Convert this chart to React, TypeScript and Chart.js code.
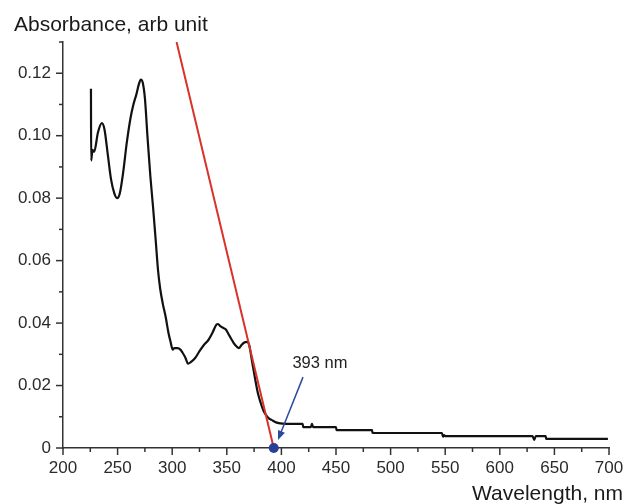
import React, { useEffect, useRef } from 'react';
import { Chart, registerables } from 'chart.js';

Chart.register(...registerables);

// Absorption spectrum (black)
const wavelengths = [
  225.6, 225.8, 227, 228.5, 232, 235.5, 238, 241, 244, 247, 249.5, 252, 255, 258.5, 262, 264.5,
  267, 269.5, 271.3, 273, 275, 277.5, 280, 282.5, 285, 287, 289, 291.5, 294, 296.5, 298.5, 300.5,
  302, 305, 307.5, 309.5, 312, 314.5, 317, 321, 325, 329, 333, 337, 340.5, 342, 344, 346.5,
  349, 351.5, 354, 356.5, 359, 361, 363.5, 366, 368.5, 370.5, 373, 376, 378.5, 381, 383.5, 386,
  388.5, 391, 395, 401, 410, 419.5, 420, 427, 428, 429, 450, 450.5, 483, 483.5, 547, 548,
  549, 550, 630, 631.5, 633, 642, 642.5, 699,
];
const absorbance = [
  0.115, 0.092, 0.0955, 0.0948, 0.101, 0.104, 0.102, 0.094, 0.086, 0.0815, 0.08, 0.0815, 0.088, 0.098, 0.106, 0.11,
  0.113, 0.1165, 0.118, 0.117, 0.112, 0.099, 0.087, 0.077, 0.066, 0.057, 0.051, 0.046, 0.042, 0.037, 0.034, 0.0315,
  0.032, 0.032, 0.0315, 0.0305, 0.029, 0.027, 0.0275, 0.0288, 0.031, 0.033, 0.0345, 0.037, 0.0395, 0.0397, 0.039, 0.0385,
  0.038, 0.0365, 0.035, 0.0335, 0.0325, 0.032, 0.033, 0.0338, 0.034, 0.033, 0.028, 0.022, 0.0175, 0.0145, 0.012, 0.0105,
  0.0095, 0.009, 0.0082, 0.0078, 0.0077, 0.0077, 0.0067, 0.0067, 0.0077, 0.0067, 0.0067, 0.0057, 0.0057, 0.0048, 0.0048, 0.0036,
  0.0041, 0.0038, 0.0038, 0.0026, 0.0038, 0.0038, 0.0029, 0.0029,
];

// Tangent (red) extrapolation line
const edgeWavelengths = [304, 393];
const edgeAbsorbance = [0.13, 0];

// Band edge marker
const edgePointWavelength = 393;
const edgePointAbsorbance = 0;
const edgeLabel = '393 nm';
const arrowFrom = [419.8, 0.0227];
const arrowTo = [396.9, 0.0026];
const labelAt = [435.3, 0.0271];

const xMin = 200;
const xMax = 700;
const yMin = 0;
const yMax = 0.13;
const xTitle = 'Wavelength, nm';
const yTitle = 'Absorbance, arb unit';

const FONT = "'Liberation Sans', Arial, sans-serif";
const AXIS_COLOR = '#333333';

const decorPlugin = {
  id: 'decor',
  afterDraw(chart: any) {
    const ctx = chart.ctx as CanvasRenderingContext2D;
    const xs = chart.scales.x;
    const ys = chart.scales.y;
    const area = chart.chartArea;
    ctx.save();
    ctx.strokeStyle = AXIS_COLOR;
    ctx.lineWidth = 1.5;
    // y ticks
    ys.ticks.forEach((t: any) => {
      const v = t.value;
      const py = ys.getPixelForValue(v);
      const major = Math.round(v * 100) % 2 === 0;
      const len = major ? 7 : 4;
      ctx.beginPath();
      ctx.moveTo(area.left - len, py);
      ctx.lineTo(area.left, py);
      ctx.stroke();
    });
    // x ticks
    xs.ticks.forEach((t: any) => {
      const v = t.value;
      const px = xs.getPixelForValue(v);
      const major = Math.round(v) % 50 === 0;
      const len = major ? 7 : 4;
      ctx.beginPath();
      ctx.moveTo(px, area.bottom);
      ctx.lineTo(px, area.bottom + len);
      ctx.stroke();
    });
    // titles
    ctx.fillStyle = '#1a1a1a';
    ctx.font = `21px ${FONT}`;
    ctx.textBaseline = 'alphabetic';
    ctx.textAlign = 'left';
    ctx.fillText(yTitle, 14, 31);
    ctx.textAlign = 'right';
    ctx.fillText(xTitle, 623, 500);

    // arrow
    const x1 = xs.getPixelForValue(arrowFrom[0]);
    const y1 = ys.getPixelForValue(arrowFrom[1]);
    const x2 = xs.getPixelForValue(arrowTo[0]);
    const y2 = ys.getPixelForValue(arrowTo[1]);
    const ang = Math.atan2(y2 - y1, x2 - x1);
    const head = 10;
    ctx.strokeStyle = '#2a4a9e';
    ctx.fillStyle = '#2a4a9e';
    ctx.lineWidth = 1.5;
    ctx.beginPath();
    ctx.moveTo(x1, y1);
    ctx.lineTo(x2 - Math.cos(ang) * head * 0.6, y2 - Math.sin(ang) * head * 0.6);
    ctx.stroke();
    ctx.beginPath();
    ctx.moveTo(x2, y2);
    ctx.lineTo(x2 - head * Math.cos(ang - 0.38), y2 - head * Math.sin(ang - 0.38));
    ctx.lineTo(x2 - head * Math.cos(ang + 0.38), y2 - head * Math.sin(ang + 0.38));
    ctx.closePath();
    ctx.fill();

    // label
    ctx.fillStyle = '#222';
    ctx.font = `16.5px ${FONT}`;
    ctx.textAlign = 'center';
    ctx.textBaseline = 'middle';
    ctx.fillText(edgeLabel, xs.getPixelForValue(labelAt[0]), ys.getPixelForValue(labelAt[1]));
    ctx.restore();
  },
};

export default function App() {
  const ref = useRef<HTMLCanvasElement | null>(null);
  useEffect(() => {
    if (!ref.current) return;
    const chart = new Chart(ref.current, {
      type: 'line',
      data: {
        datasets: [
          {
            label: 'edge',
            data: [{ x: edgePointWavelength, y: edgePointAbsorbance }],
            showLine: false,
            pointRadius: 5,
            pointBackgroundColor: '#2a3f96',
            pointBorderColor: '#2a3f96',
            pointBorderWidth: 0,
            clip: false as any,
            order: 0,
          },
          {
            label: 'tangent',
            data: edgeWavelengths.map((x, i) => ({ x, y: edgeAbsorbance[i] })),
            borderColor: '#d8322a',
            borderWidth: 2,
            pointRadius: 0,
            order: 1,
          },
          {
            label: 'spectrum',
            data: wavelengths.map((x, i) => ({ x, y: absorbance[i] })),
            borderColor: '#111111',
            borderWidth: 2.2,
            pointRadius: 0,
            cubicInterpolationMode: 'monotone',
            order: 2,
          },
        ],
      },
      options: {
        responsive: false,
        animation: false,
        layout: { padding: { top: 42, right: 19, left: 0, bottom: 0 } },
        plugins: { legend: { display: false }, tooltip: { enabled: false }, title: { display: false } },
        scales: {
          x: {
            type: 'linear',
            min: xMin,
            max: xMax,
            afterFit: (s: any) => { s.height = 56; s.paddingLeft = 0; s.paddingRight = 0; },
            ticks: {
              stepSize: 25,
              autoSkip: false,
              maxRotation: 0,
              padding: 10,
              color: '#2a2a2a',
              font: { family: FONT, size: 17 },
              callback: (v: any) => (Math.round(v) % 50 === 0 ? String(Math.round(v)) : ''),
            },
            grid: { display: true, drawOnChartArea: false, drawTicks: false },
            border: { display: true, color: AXIS_COLOR, width: 1.5 },
          },
          y: {
            type: 'linear',
            min: yMin,
            max: yMax,
            afterFit: (s: any) => { s.width = 63; s.paddingTop = 0; s.paddingBottom = 0; },
            ticks: {
              stepSize: 0.01,
              autoSkip: false,
              padding: 12,
              color: '#2a2a2a',
              font: { family: FONT, size: 17 },
              callback: (v: any) => {
                const k = Math.round(v * 100);
                if (k % 2 !== 0) return '';
                return k === 0 ? '0' : (k / 100).toFixed(2);
              },
            },
            grid: { display: true, drawOnChartArea: false, drawTicks: false },
            border: { display: true, color: AXIS_COLOR, width: 1.5 },
          },
        },
      },
      plugins: [decorPlugin],
    });
    return () => chart.destroy();
  }, []);
  return (
    <div style={{ position: 'fixed', left: 0, top: 0, width: 628, height: 504, background: '#fff' }}>
      <canvas ref={ref} width={628} height={504} style={{ display: 'block' }} />
    </div>
  );
}
